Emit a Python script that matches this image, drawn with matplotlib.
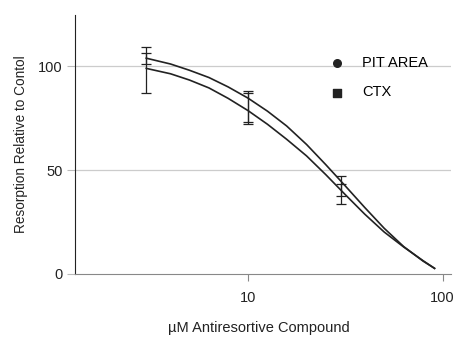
import matplotlib.pyplot as plt

plt.rcParams["font.family"] = ["Liberation Sans", "DejaVu Sans"]

# fitted curves
curve_x = [3, 4, 5, 6.3, 7.9, 10, 12.6, 15.8, 20, 25.1, 31.6, 39.8, 50.1, 63.1, 79.4, 91]
pit_curve = [103.8, 101.0, 98.0, 94.5, 90.0, 84.6, 78.3, 71.2, 62.3, 52.6, 42.4, 32.0, 22.0, 13.2, 6.2, 2.7]
ctx_curve = [98.9, 96.3, 93.3, 89.5, 84.5, 78.6, 72.0, 64.8, 56.8, 47.8, 38.2, 28.8, 20.2, 13.0, 6.4, 2.7]

# measured points with error bars
dose = [3, 10, 30]
pit_mean = [103.6, 80.6, 40.3]
pit_err = [2.8, 7.4, 6.8]
ctx_mean = [98.1, 79.5, 40.3]
ctx_err = [11.2, 7.4, 2.8]

fig = plt.figure(figsize=(4.57, 3.37), dpi=100)
ax = fig.add_axes([0.164, 0.187, 0.823, 0.768])

ax.plot(curve_x, pit_curve, color="#222222", lw=1.2, solid_joinstyle="round")
ax.plot(curve_x, ctx_curve, color="#222222", lw=1.2, solid_joinstyle="round")
ax.errorbar(dose, pit_mean, yerr=pit_err, fmt="none", ecolor="#222222", elinewidth=0.9, capsize=3.5, capthick=0.9)
ax.errorbar(dose, ctx_mean, yerr=ctx_err, fmt="none", ecolor="#222222", elinewidth=0.9, capsize=3.5, capthick=0.9)

# legend drawn as markers only
ax.scatter([], [], marker="o", s=30, color="#222222", label="PIT AREA")
ax.scatter([], [], marker="s", s=30, color="#222222", label="CTX")
ax.legend(loc="upper left", bbox_to_anchor=(0.678, 0.842), frameon=False, fontsize=10.5,
          handletextpad=1.2, labelspacing=1.05, handlelength=1.0, borderaxespad=0, borderpad=0)

ax.set_xscale("log")
ax.set_xlim(1.29, 110.6)
ax.set_ylim(0, 124.5)
ax.set_xticks([10, 100])
ax.set_xticklabels(["10", "100"])
ax.xaxis.set_minor_locator(plt.NullLocator())
ax.set_yticks([0, 50, 100])

for y in [50, 100]:
    ax.axhline(y, color="#cccccc", lw=0.9, zorder=0)

ax.spines["top"].set_visible(False)
ax.spines["right"].set_visible(False)
ax.spines["left"].set_color("#222222")
ax.spines["bottom"].set_color("#888888")
ax.tick_params(axis="x", colors="#888888", labelcolor="#222222", length=5, labelsize=10.5, pad=7)
ax.tick_params(axis="y", colors="#bbbbbb", labelcolor="#222222", length=6, labelsize=10.5, pad=3)

ax.set_xlabel("µM Antiresortive Compound", fontsize=10.5, color="#222222")
ax.xaxis.set_label_coords(0.489, -0.18)
ax.set_ylabel("Resorption Relative to Contol", fontsize=9.8, color="#222222")
ax.yaxis.set_label_coords(-0.125, 0.5)

fig.savefig("out.png", dpi=100)
